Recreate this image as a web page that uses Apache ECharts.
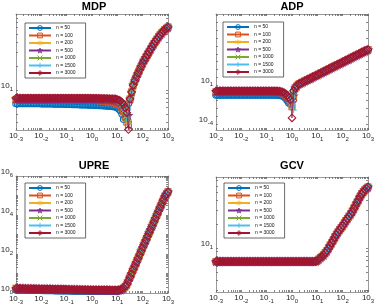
<!DOCTYPE html>
<html><head><meta charset="utf-8">
<script src="https://cdn.jsdelivr.net/npm/echarts@6/dist/echarts.min.js"></script>
<style>html,body{margin:0;padding:0;background:#fff}#c{width:374px;height:307px}</style>
</head><body><div id="c"></div><script>
// regularisation parameter grid (x values, 16 per decade)
const lambdas = [
  0.001,0.001155,0.001334,0.00154,0.001778,0.002054,0.002371,0.002738,0.003162,0.003652,0.004217,0.00487,0.005623,0.006494,0.007499,0.00866,
  0.01,0.01155,0.01334,0.0154,0.01778,0.02054,0.02371,0.02738,0.03162,0.03652,0.04217,0.0487,0.05623,0.06494,0.07499,0.0866,
  0.1,0.1155,0.1334,0.154,0.1778,0.2054,0.2371,0.2738,0.3162,0.3652,0.4217,0.487,0.5623,0.6494,0.7499,0.866,
  1,1.155,1.334,1.54,1.778,2.054,2.371,2.738,3.162,3.652,4.217,4.87,5.623,6.494,7.499,8.66,
  10,11.55,13.34,15.4,17.78,20.54,23.71,27.38,31.62,36.52,42.17,48.7,56.23,64.94,74.99,86.6,
  100,115.5,133.4,154,177.8,205.4,237.1,273.8,316.2,365.2,421.7,487,562.3,649.4,749.9,866,
  1000];
const seriesNames = ['n = 50','n = 100','n = 200','n = 500','n = 1000','n = 1500','n = 3000'];
const panelTitles = ['MDP','ADP','UPRE','GCV'];
const xTickExps = [-3,-2,-1,0,1,2,3];
const mdpYTickExps = [1];
const adpYTickExps = [-4,1];
const upreYTickExps = [0,2,4,6];
const gcvYTickExps = [1];

// ---- MDP: points 0..71 per n, then a common rising branch (points 72..96)
const mdpN50 = [6.8,6.8,6.8,6.8,6.8,6.8,6.8,6.8, 6.8,6.8,6.8,6.8,6.8,6.8,6.8,6.8,
  6.75,6.75,6.75,6.75,6.72,6.72,6.72,6.72, 6.7,6.7,6.7,6.7,6.68,6.68,6.66,6.66,
  6.65,6.64,6.63,6.62,6.61,6.6,6.59,6.58, 6.57,6.56,6.55,6.54,6.53,6.52,6.51,6.5,
  6.5,6.48,6.46,6.45,6.43,6.42,6.4,6.38, 6.36,6.34,6.32,6.3,6.27,6.24,6.2,6.15,
  6.0,5.8,5.5,5.0,4.3,4.5,5.8,6.8];
const mdpN100 = [7.6,7.6,7.6,7.6,7.6,7.6,7.6,7.6, 7.6,7.6,7.6,7.6,7.6,7.6,7.6,7.6,
  7.6,7.6,7.6,7.6,7.6,7.6,7.6,7.6, 7.6,7.6,7.6,7.6,7.6,7.6,7.6,7.6,
  7.55,7.55,7.55,7.55,7.55,7.55,7.55,7.55, 7.55,7.55,7.55,7.55,7.55,7.55,7.55,7.55,
  7.5,7.48,7.45,7.43,7.4,7.37,7.35,7.3, 7.25,7.2,7.15,7.1,7.05,7.0,6.95,6.9,
  6.8,6.6,6.4,6.0,5.3,4.6,4.0,3.7];
const mdpN200 = [7.7,7.7,7.7,7.7,7.7,7.7,7.7,7.7, 7.7,7.7,7.7,7.7,7.7,7.7,7.7,7.7,
  7.7,7.7,7.7,7.7,7.7,7.7,7.7,7.7, 7.7,7.7,7.7,7.7,7.7,7.7,7.7,7.7,
  7.68,7.68,7.68,7.68,7.68,7.68,7.68,7.68, 7.68,7.68,7.68,7.68,7.68,7.68,7.68,7.68,
  7.65,7.64,7.62,7.61,7.6,7.58,7.56,7.54, 7.52,7.5,7.48,7.45,7.42,7.38,7.35,7.3,
  7.1,7.0,6.8,6.4,5.7,5.0,4.2,4.0];
const mdpN500 = [7.75,7.75,7.75,7.75,7.75,7.75,7.75,7.75, 7.75,7.75,7.75,7.75,7.75,7.75,7.75,7.75,
  7.75,7.75,7.75,7.75,7.75,7.75,7.75,7.75, 7.75,7.75,7.75,7.75,7.75,7.75,7.75,7.75,
  7.73,7.73,7.73,7.73,7.73,7.73,7.73,7.73, 7.73,7.73,7.73,7.73,7.73,7.73,7.73,7.73,
  7.72,7.71,7.7,7.69,7.68,7.67,7.66,7.65, 7.63,7.61,7.6,7.58,7.55,7.52,7.5,7.45,
  7.3,7.1,6.9,6.5,6.0,5.4,4.6,4.8];
const mdpN1000 = [7.8,7.8,7.8,7.8,7.8,7.8,7.8,7.8, 7.8,7.8,7.8,7.8,7.8,7.8,7.8,7.8,
  7.8,7.8,7.8,7.8,7.8,7.8,7.8,7.8, 7.8,7.8,7.8,7.8,7.8,7.8,7.8,7.8,
  7.78,7.78,7.78,7.78,7.78,7.78,7.78,7.78, 7.78,7.78,7.78,7.78,7.78,7.78,7.78,7.78,
  7.76,7.75,7.74,7.73,7.72,7.71,7.7,7.69, 7.68,7.67,7.66,7.64,7.63,7.62,7.6,7.55,
  7.4,7.2,7.0,6.6,6.0,5.3,4.4,4.3];
const mdpN1500 = [7.85,7.85,7.85,7.85,7.85,7.85,7.85,7.85, 7.85,7.85,7.85,7.85,7.85,7.85,7.85,7.85,
  7.85,7.85,7.85,7.85,7.85,7.85,7.85,7.85, 7.85,7.85,7.85,7.85,7.85,7.85,7.85,7.85,
  7.83,7.83,7.83,7.83,7.83,7.83,7.83,7.83, 7.83,7.83,7.83,7.83,7.83,7.83,7.83,7.83,
  7.82,7.81,7.8,7.79,7.78,7.77,7.76,7.75, 7.74,7.73,7.72,7.71,7.7,7.68,7.65,7.6,
  7.45,7.3,7.0,6.7,6.0,5.4,4.5,3.8];
const mdpN3000 = [7.9,7.9,7.9,7.9,7.9,7.9,7.9,7.9, 7.9,7.9,7.9,7.9,7.9,7.9,7.9,7.9,
  7.9,7.9,7.9,7.9,7.9,7.9,7.9,7.9, 7.9,7.9,7.9,7.9,7.9,7.9,7.9,7.9,
  7.9,7.9,7.9,7.9,7.9,7.9,7.9,7.9, 7.9,7.9,7.9,7.9,7.9,7.9,7.9,7.9,
  7.9,7.89,7.88,7.87,7.86,7.86,7.85,7.84, 7.83,7.82,7.82,7.8,7.79,7.78,7.76,7.75,
  7.6,7.5,7.3,7.0,6.6,6.0,5.2,3.2];
const mdpRise = [7.7,9.4,11.5,13.0,14.5,16.1,17.8,19.7,21.7,23.6,25.5,27.7,29.9,32.3,34.9,37.6,40.4,43.1,45.9,48.7,51.6,54.3,57,59,61];

// ---- ADP: points 0..49 per n, then a common rising branch (points 50..96)
const adpN50 = [0.52,0.52,0.52,0.52,0.52,0.52,0.52,0.52, 0.52,0.52,0.52,0.52,0.52,0.52,0.52,0.52,
  0.52,0.52,0.52,0.52,0.52,0.52,0.52,0.52, 0.52,0.52,0.52,0.52,0.52,0.52,0.52,0.52,
  0.52,0.52,0.52,0.52,0.52,0.52,
  0.52,0.51,0.5,0.46,0.4,0.3,0.2,0.1,0.05,0.04,0.3,1.5];
const adpN100 = [1.3,1.3,1.3,1.3,1.3,1.3,1.3,1.3, 1.3,1.3,1.3,1.3,1.3,1.3,1.3,1.3,
  1.3,1.3,1.3,1.3,1.3,1.3,1.3,1.3, 1.3,1.3,1.3,1.3,1.3,1.3,1.3,1.3,
  1.3,1.3,1.3,1.3,1.3,1.3,
  1.3,1.27,1.2,1.1,0.9,0.7,0.5,0.3,0.2,0.06,0.016,0.2];
const adpN200 = [1.4,1.4,1.4,1.4,1.4,1.4,1.4,1.4, 1.4,1.4,1.4,1.4,1.4,1.4,1.4,1.4,
  1.4,1.4,1.4,1.4,1.4,1.4,1.4,1.4, 1.4,1.4,1.4,1.4,1.4,1.4,1.4,1.4,
  1.4,1.4,1.4,1.4,1.4,1.4,
  1.4,1.37,1.3,1.2,1.0,0.8,0.6,0.4,0.25,0.1,0.03,0.3];
const adpN500 = [1.5,1.5,1.5,1.5,1.5,1.5,1.5,1.5, 1.5,1.5,1.5,1.5,1.5,1.5,1.5,1.5,
  1.5,1.5,1.5,1.5,1.5,1.5,1.5,1.5, 1.5,1.5,1.5,1.5,1.5,1.5,1.5,1.5,
  1.5,1.5,1.5,1.5,1.5,1.5,
  1.5,1.47,1.4,1.3,1.1,0.9,0.6,0.35,0.2,0.1,0.05,0.4];
const adpN1000 = [1.55,1.55,1.55,1.55,1.55,1.55,1.55,1.55, 1.55,1.55,1.55,1.55,1.55,1.55,1.55,1.55,
  1.55,1.55,1.55,1.55,1.55,1.55,1.55,1.55, 1.55,1.55,1.55,1.55,1.55,1.55,1.55,1.55,
  1.55,1.55,1.55,1.55,1.55,1.55,
  1.55,1.52,1.45,1.35,1.2,0.95,0.7,0.45,0.2,0.08,0.02,0.5];
const adpN1500 = [1.6,1.6,1.6,1.6,1.6,1.6,1.6,1.6, 1.6,1.6,1.6,1.6,1.6,1.6,1.6,1.6,
  1.6,1.6,1.6,1.6,1.6,1.6,1.6,1.6, 1.6,1.6,1.6,1.6,1.6,1.6,1.6,1.6,
  1.6,1.6,1.6,1.6,1.6,1.6,
  1.6,1.57,1.5,1.38,1.2,0.95,0.7,0.4,0.18,0.1,0.02,0.0063];
const adpN3000 = [1.7,1.7,1.7,1.7,1.7,1.7,1.7,1.7, 1.7,1.7,1.7,1.7,1.7,1.7,1.7,1.7,
  1.7,1.7,1.7,1.7,1.7,1.7,1.7,1.7, 1.7,1.7,1.7,1.7,1.7,1.7,1.7,1.7,
  1.7,1.7,1.7,1.7,1.7,1.7,
  1.7,1.68,1.6,1.45,1.26,1.0,0.7,0.45,0.25,0.12,0.00059,1.8];
const adpRise = [4.2,7.5,12,15,19,24.5,31,39,49,61,76,98,126,157,195,250,316,400,500,640,810,1030,1320,1660,2090,2650,3390,4200,5250,6600,8300,10600,13500,16800,21000,27000,35000,44000,55000,69000,87000,110000,140000,175000,220000,275000,340000];

// ---- UPRE: points 0..64, then a common rising branch (points 65..96)
const upreN50 = [1.45,1.45,1.44,1.44,1.43,1.43,1.42,1.42,1.41,1.41,1.4,1.4,1.39,1.39,1.38,1.38,
  1.37,1.37,1.36,1.36,1.35,1.35,1.34,1.34,1.33,1.33,1.32,1.32,1.31,1.31,1.3,1.3,
  1.3,1.3,1.29,1.29,1.28,1.28,1.28,1.28,1.27,1.27,1.26,1.26,1.26,1.26,1.25,1.25,
  1.25,1.25,1.24,1.24,1.24,1.24,1.23,1.23,1.23,1.23,1.22,1.22,1.22,1.22,1.22,1.22,
  1.21];
const upreOthers = [1.72,1.71,1.7,1.7,1.69,1.69,1.68,1.67,1.66,1.66,1.65,1.65,1.64,1.63,1.62,1.62,
  1.61,1.61,1.6,1.6,1.59,1.59,1.58,1.57,1.56,1.56,1.55,1.55,1.54,1.54,1.53,1.53,
  1.52,1.51,1.5,1.5,1.49,1.49,1.48,1.48,1.47,1.47,1.46,1.46,1.45,1.45,1.44,1.44,
  1.43,1.43,1.42,1.42,1.42,1.42,1.41,1.41,1.4,1.4,1.4,1.4,1.39,1.39,1.38,1.38,
  1.38];
const upreRise = [1.4,1.45,1.6,1.8,2.2,2.8,4.2,6.5,10,16,24,37,57,89,138,214,330,500,780,1200,1820,2750,4250,6600,10200,15800,24500,37000,58000,89000,120000,155000];

// ---- GCV: all n coincide
const gcvAll = [6.8,6.8,6.8,6.8,6.8,6.8,6.8,6.8, 6.8,6.8,6.8,6.8,6.8,6.8,6.8,6.8,
  6.8,6.8,6.8,6.8,6.8,6.8,6.8,6.8, 6.8,6.8,6.8,6.8,6.8,6.8,6.8,6.8,
  6.8,6.8,6.8,6.8,6.8,6.8,6.8,6.8, 6.8,6.8,6.8,6.8,6.8,6.8,6.8,6.8,
  6.8,6.8,6.8,6.8,6.8,6.8,6.8,6.8, 6.8,6.8,6.8,6.8,6.8,6.8,6.8,6.8,
  7.0,7.3,7.6,7.9,8.2,8.7,9.2,9.9,10.7,11.6,12.5,13.6,14.7,15.8,16.9,17.9,19,20.4,21.9,23.4,25,26.6,28.4,31,33.8,37,40.2,44,47.7,50.5,53.5,56,58.3];

const COLORS = ['#0072BD','#D95319','#EDB120','#7E2F8E','#77AC30','#4DBEEE','#A2142F'];
const SYMBOLS = [
  'path://M10,5A5,5,0,1,1,0,5A5,5,0,1,1,10,5Z',
  'path://M0,0L10,0L10,10L0,10Z',
  'path://M5,0L5,10M0.7,2.5L9.3,7.5M9.3,2.5L0.7,7.5',
  'path://M5,0L6.2,3.6L10,3.6L6.9,5.9L8.1,9.5L5,7.3L1.9,9.5L3.1,5.9L0,3.6L3.8,3.6Z',
  'path://M1,1L9,9M9,1L1,9',
  'path://M5,0L5,10M0,5L10,5',
  'path://M5,0L10,5L5,10L0,5Z'
];
const SIZES = [6.5,6,6.5,7,5.5,6.5,7.5];
const fam = '"Liberation Sans", Arial, Helvetica, sans-serif';

const panels = [
  {grid:{left:16,top:14,width:152,height:116}, ymin:0.5, ymax:1.95, ylab:mdpYTickExps,
   data:[mdpN50,mdpN100,mdpN200,mdpN500,mdpN1000,mdpN1500,mdpN3000].map(h=>h.concat(mdpRise)),
   legend:[25,23], title:[94,1], minorY:true},
  {grid:{left:216,top:14,width:152,height:116}, ymin:-4.77, ymax:10.1, ylab:adpYTickExps,
   data:[adpN50,adpN100,adpN200,adpN500,adpN1000,adpN1500,adpN3000].map(h=>h.concat(adpRise)),
   legend:[223,22], title:[292,1], minorY:false},
  {grid:{left:16,top:176,width:152,height:117}, ymin:0, ymax:6, ylab:upreYTickExps,
   data:[upreN50,upreOthers,upreOthers,upreOthers,upreOthers,upreOthers,upreOthers].map(h=>h.concat(upreRise)),
   legend:[25,183], title:[94,160], minorY:true},
  {grid:{left:216,top:177,width:152,height:115}, ymin:0.45, ymax:1.89, ylab:gcvYTickExps,
   data:[gcvAll,gcvAll,gcvAll,gcvAll,gcvAll,gcvAll,gcvAll],
   legend:[224,183], title:[292,160], minorY:true}
];

function tickList(lo, hi, minor) {
  const out = [];
  for (let k = Math.floor(lo); k <= Math.ceil(hi); k++) {
    out.push(k);
    if (minor) for (let m = 2; m <= 9; m++) out.push(k + Math.log10(m));
  }
  return out.filter(v => v >= lo - 1e-9 && v <= hi + 1e-9);
}

const rich = {
  b: {fontSize: 8, lineHeight: 8, padding: [0,0,4,0], verticalAlign: 'bottom', color: '#262626', fontFamily: fam},
  s: {fontSize: 6, lineHeight: 6, padding: [0,0,10,0], verticalAlign: 'top', color: '#262626', fontFamily: fam}
};
const fmt = v => '{b|10}{s|' + Math.round(v) + '}';
const lineCol = '#9a9a9a';

const grids = [], xAxes = [], yAxes = [], series = [], legends = [], titles = [];
panels.forEach((p, pi) => {
  grids.push(Object.assign({show:false, outerBoundsMode:'none', containLabel:false}, p.grid));
  const xt = tickList(-3, 3, true);
  const yt = tickList(p.ymin, p.ymax, p.minorY);
  const baseX = {type:'value', gridIndex:pi, min:-3, max:3, splitLine:{show:false},
    axisLine:{show:true, onZero:false, lineStyle:{color:lineCol, width:1}},
    axisTick:{show:true, inside:true, length:2, customValues:xt, lineStyle:{color:'#666', width:0.8}}};
  const baseY = {type:'value', gridIndex:pi, min:p.ymin, max:p.ymax, splitLine:{show:false},
    axisLine:{show:true, onZero:false, lineStyle:{color:lineCol, width:1}},
    axisTick:{show:true, inside:true, length:2, customValues:yt, lineStyle:{color:'#666', width:0.8}}};
  xAxes.push(Object.assign({}, baseX, {position:'bottom',
    axisLabel:{show:true, customValues:xTickExps, formatter:fmt, rich:rich, margin:6, hideOverlap:false}}));
  xAxes.push(Object.assign({}, baseX, {position:'top', axisLabel:{show:false}}));
  yAxes.push(Object.assign({}, baseY, {position:'left',
    axisLabel:{show:true, customValues:p.ylab, formatter:fmt, rich:rich, margin:3}}));
  yAxes.push(Object.assign({}, baseY, {position:'right', axisLabel:{show:false}}));
  p.data.forEach((vals, j) => {
    series.push({
      type:'line', name:seriesNames[j], xAxisIndex:2*pi, yAxisIndex:2*pi,
      data: lambdas.map((x, i) => [Math.log10(x), Math.log10(vals[i])]),
      symbol: SYMBOLS[j], symbolSize: SIZES[j], showSymbol:true,
      lineStyle:{color:COLORS[j], width:0.8},
      itemStyle:{color:'rgba(255,255,255,0)', borderColor:COLORS[j], borderWidth:1.1},
      clip:false, silent:true, emphasis:{disabled:true}, z: 2 + j
    });
  });
  legends.push({
    data: seriesNames.map((n, j) => ({name:n, itemStyle:{color:'rgba(255,255,255,0)', borderColor:COLORS[j], borderWidth:1}})),
    orient:'vertical', left:p.legend[0], top:p.legend[1],
    itemWidth:22, itemHeight:6, itemGap:1.5, padding:[2,10,2,3],
    backgroundColor:'#fff', borderColor:'#444', borderWidth:0.8, selectedMode:false,
    textStyle:{fontSize:5, lineHeight:6, color:'#111', fontFamily:fam}
  });
  titles.push({text:panelTitles[pi], left:p.title[0], top:p.title[1], textAlign:'center', padding:0,
    textStyle:{fontSize:11, fontWeight:'bold', color:'#000', fontFamily:fam}});
});

const chart = echarts.init(document.getElementById('c'), null, {renderer:'canvas'});
chart.setOption({
  animation:false, backgroundColor:'#fff',
  title: titles, grid: grids, xAxis: xAxes, yAxis: yAxes, legend: legends, series: series
});
</script></body></html>
